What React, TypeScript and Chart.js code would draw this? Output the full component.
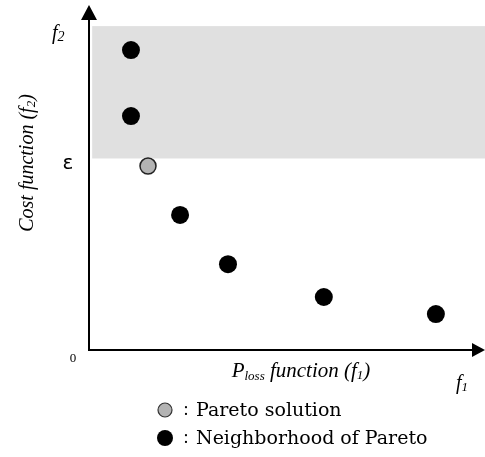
import React, { useEffect, useRef } from "react";
import Chart from "chart.js/auto";

// Data (f1, f2) in abstract units
const paretoX = [1.49];
const paretoY = [5.38];
const neighborX = [1.06, 1.06, 2.3, 3.51, 5.93, 8.76];
const neighborY = [8.77, 6.84, 3.95, 2.51, 1.55, 1.05];
const epsilon = 5.6;
const bandTop = 9.47;
const bandLeft = 0.08;
const axisMax = 10;
const legendLabels = ["Pareto solution", "Neighborhood of Pareto"];

type Seg = { t: string; font: string; dy?: number };

function drawRich(ctx: CanvasRenderingContext2D, segs: Seg[], x: number, y: number, align: "left" | "center") {
  let total = 0;
  for (const s of segs) {
    ctx.font = s.font;
    total += ctx.measureText(s.t).width;
  }
  let cx = align === "center" ? x - total / 2 : x;
  ctx.textAlign = "left";
  ctx.textBaseline = "alphabetic";
  for (const s of segs) {
    ctx.font = s.font;
    ctx.fillText(s.t, cx, y + (s.dy || 0));
    cx += ctx.measureText(s.t).width;
  }
}

const SERIF = '"Liberation Serif", "Times New Roman", serif';
const LSERIF = '"DejaVu Serif", serif';

const decor = {
  id: "decor",
  beforeDatasetsDraw(chart: any) {
    const { ctx, scales } = chart;
    const xs = scales.x, ys = scales.y;
    ctx.save();
    ctx.fillStyle = "#e0e0e0";
    const l = xs.getPixelForValue(bandLeft), r = chart.width;
    const t = ys.getPixelForValue(bandTop), b = ys.getPixelForValue(epsilon);
    ctx.fillRect(l, t, r - l, b - t);
    ctx.restore();
  },
  afterDraw(chart: any) {
    const { ctx, scales } = chart;
    const xs = scales.x, ys = scales.y;
    const x0 = xs.getPixelForValue(0), y0 = ys.getPixelForValue(0);
    ctx.save();
    ctx.strokeStyle = "#000";
    ctx.fillStyle = "#000";
    ctx.lineWidth = 2;
    // y axis
    ctx.beginPath();
    ctx.moveTo(x0, y0 + 1);
    ctx.lineTo(x0, 18);
    ctx.stroke();
    ctx.beginPath();
    ctx.moveTo(x0, 5);
    ctx.lineTo(x0 - 8, 20);
    ctx.lineTo(x0 + 8, 20);
    ctx.closePath();
    ctx.fill();
    // x axis
    ctx.beginPath();
    ctx.moveTo(x0 - 1, y0);
    ctx.lineTo(475, y0);
    ctx.stroke();
    ctx.beginPath();
    ctx.moveTo(485, y0);
    ctx.lineTo(472, y0 - 7);
    ctx.lineTo(472, y0 + 7);
    ctx.closePath();
    ctx.fill();

    // labels
    const it = (s: number) => `italic ${s}px ${SERIF}`;
    const rg = (s: number) => `${s}px ${SERIF}`;
    drawRich(ctx, [{ t: "f", font: it(20) }, { t: "2", font: it(14), dy: 2 }], 52, 39, "left");
    drawRich(ctx, [{ t: "f", font: it(20) }, { t: "1", font: it(13), dy: 2 }], 462, 389, "center");
    ctx.font = `20px "DejaVu Sans", sans-serif`;
    ctx.textAlign = "center";
    ctx.textBaseline = "middle";
    ctx.fillText("ε", 68, ys.getPixelForValue(epsilon) + 5);
    ctx.font = rg(13);
    ctx.fillText("0", 73, 359);
    drawRich(ctx, [
      { t: "P", font: it(21) },
      { t: "loss", font: it(13), dy: 3 },
      { t: " function (", font: it(21) },
      { t: "f", font: it(21) },
      { t: "1", font: it(13), dy: 2 },
      { t: ")", font: it(21) },
    ], 301, 377, "center");
    ctx.save();
    ctx.translate(33, 163);
    ctx.rotate(-Math.PI / 2);
    drawRich(ctx, [
      { t: "Cost function (", font: it(20) },
      { t: "f", font: it(20) },
      { t: "2", font: it(13), dy: 2 },
      { t: ")", font: it(20) },
    ], 0, 0, "center");
    ctx.restore();

    // legend
    ctx.lineWidth = 1.2;
    ctx.beginPath();
    ctx.arc(165, 410, 7, 0, Math.PI * 2);
    ctx.fillStyle = "#b3b3b3";
    ctx.fill();
    ctx.strokeStyle = "#333";
    ctx.stroke();
    ctx.beginPath();
    ctx.arc(165, 438, 8, 0, Math.PI * 2);
    ctx.fillStyle = "#000";
    ctx.fill();
    ctx.fillStyle = "#000";
    ctx.textBaseline = "alphabetic";
    ctx.textAlign = "center";
    ctx.font = rg(18);
    ctx.fillText(":", 186, 415);
    ctx.fillText(":", 186, 443);
    ctx.textAlign = "left";
    ctx.font = `19px ${LSERIF}`;
    ctx.fillText(legendLabels[0], 196, 416);
    ctx.fillText(legendLabels[1], 196, 444);
    ctx.restore();
  },
};

export default function App() {
  const ref = useRef<HTMLCanvasElement | null>(null);
  useEffect(() => {
    if (!ref.current) return;
    const chart = new Chart(ref.current, {
      type: "scatter",
      data: {
        datasets: [
          {
            label: "Neighborhood of Pareto",
            data: neighborX.map((x, i) => ({ x, y: neighborY[i] })),
            backgroundColor: "#000",
            borderColor: "#000",
            pointRadius: 9,
            borderWidth: 0,
            clip: false as any,
          },
          {
            label: "Pareto solution",
            data: paretoX.map((x, i) => ({ x, y: paretoY[i] })),
            backgroundColor: "#b3b3b3",
            borderColor: "#222",
            pointRadius: 8,
            borderWidth: 1.5,
            clip: false as any,
          },
        ],
      },
      options: {
        responsive: false,
        animation: false,
        layout: { autoPadding: false, padding: { left: 89, top: 8, right: 0, bottom: 107 } },
        scales: {
          x: { type: "linear", min: 0, max: axisMax, display: false },
          y: { type: "linear", min: 0, max: axisMax, display: false },
        },
        plugins: { legend: { display: false }, tooltip: { enabled: false } },
      },
      plugins: [decor],
    });
    return () => chart.destroy();
  }, []);
  return (
    <div style={{ position: "fixed", left: 0, top: 0, width: 485, height: 457, background: "#fff" }}>
      <canvas ref={ref} width={485} height={457} style={{ width: 485, height: 457 }} />
    </div>
  );
}
